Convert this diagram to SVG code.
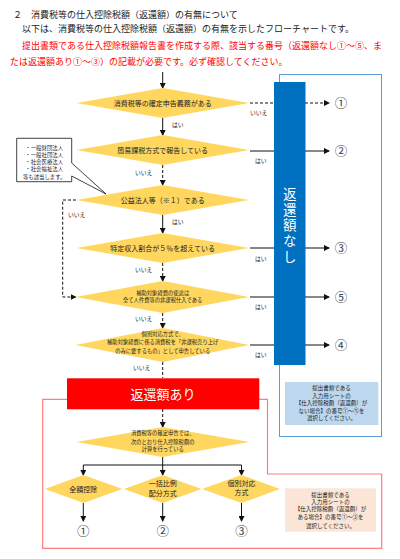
<svg xmlns="http://www.w3.org/2000/svg" width="400" height="559" viewBox="0 0 400 559">
<defs>
<style>
text{font-family:"Noto Sans CJK JP","Noto Sans",sans-serif;fill:#222}
.h{font-size:9px}
.red{fill:#ff0000}
.dia{fill:#ffd75e;stroke:none}
.dt{font-size:7px;text-anchor:middle}
.ds{font-size:5.3px;text-anchor:middle}
.lb{font-size:5.8px}
.ln{stroke:#111;stroke-width:1;fill:none}
.dash{stroke-dasharray:3,2}
.cn{font-size:12.5px;text-anchor:middle;fill:#444}
.bx{font-size:5.5px;text-anchor:middle}
.wt{fill:#fff;text-anchor:middle}
</style>
<marker id="ah" markerWidth="6" markerHeight="6" refX="5" refY="3" orient="auto" markerUnits="userSpaceOnUse">
<path d="M0,0 L6,3 L0,6 Z" fill="#111"/>
</marker>
</defs>
<rect width="400" height="559" fill="#fff"/>

<g id="header">
<text class="h" x="13" y="18">２　消費税等の仕入控除税額（返還額）の有無について</text>
<text class="h" x="22" y="32">以下は、消費税等の仕入控除税額（返還額）の有無を示したフローチャートです。</text>
<text class="h red" x="22" y="49">提出書類である仕入控除税額報告書を作成する際、該当する番号（返還額なし①～⑤、ま</text>
<text class="h red" x="10" y="65">たは返還額あり①～③）の記載が必要です。必ず確認してください。</text>
</g>

<g id="frame-none">
<rect x="279.5" y="74.5" width="102" height="362" fill="none" stroke="#5b9bd5" stroke-width="1"/>
</g>
<g id="frame-ari">
<path d="M42.7,399.3 H267.5 V474 H381.7 V548.3 H42.7 Z" fill="none" stroke="#ff7c80" stroke-width="1.2"/>
</g>

<g id="connectors">
<line class="ln" x1="162.7" y1="72" x2="162.7" y2="88" marker-end="url(#ah)"/>
<line class="ln" x1="162.7" y1="118" x2="162.7" y2="135" marker-end="url(#ah)"/>
<line class="ln dash" x1="162.7" y1="165" x2="162.7" y2="185" marker-end="url(#ah)"/>
<line class="ln" x1="162.7" y1="215" x2="162.7" y2="233" marker-end="url(#ah)"/>
<line class="ln dash" x1="162.7" y1="263" x2="162.7" y2="281" marker-end="url(#ah)"/>
<line class="ln dash" x1="162.7" y1="313" x2="162.7" y2="328" marker-end="url(#ah)"/>
<line class="ln dash" x1="162.7" y1="362" x2="162.7" y2="378"/>
<line class="ln dash" x1="162.7" y1="409" x2="162.7" y2="427" marker-end="url(#ah)"/>
<path class="ln dash" d="M76,200 H62.7 V297 H75.5" marker-end="url(#ah)"/>
<line class="ln dash" x1="250" y1="103" x2="329" y2="103" marker-end="url(#ah)"/>
<line class="ln" x1="250" y1="151" x2="329" y2="151" marker-end="url(#ah)"/>
<line class="ln" x1="250" y1="248" x2="329" y2="248" marker-end="url(#ah)"/>
<line class="ln" x1="250" y1="297" x2="329" y2="297" marker-end="url(#ah)"/>
<line class="ln" x1="250" y1="345" x2="329" y2="345" marker-end="url(#ah)"/>
<path class="ln" d="M162.7,457 V465 M83.3,465 H241.5"/>
<line class="ln" x1="83.3" y1="465" x2="83.3" y2="475" marker-end="url(#ah)"/>
<line class="ln" x1="162.7" y1="465" x2="162.7" y2="475" marker-end="url(#ah)"/>
<line class="ln" x1="241.5" y1="465" x2="241.5" y2="475" marker-end="url(#ah)"/>
<line class="ln" x1="83.3" y1="503" x2="83.3" y2="521" marker-end="url(#ah)"/>
<line class="ln" x1="162.7" y1="503" x2="162.7" y2="521" marker-end="url(#ah)"/>
<line class="ln" x1="241.5" y1="503" x2="241.5" y2="521" marker-end="url(#ah)"/>
<text class="lb" x="172" y="127">はい</text>
<text class="lb" x="135" y="175">いいえ</text>
<text class="lb" x="172" y="224">はい</text>
<text class="lb" x="135" y="272">いいえ</text>
<text class="lb" x="135" y="321">いいえ</text>
<text class="lb" x="133" y="370">いいえ</text>
<text class="lb" x="68" y="217">いいえ</text>
<text class="lb" x="250" y="115">いいえ</text>
<text class="lb" x="255" y="163">はい</text>
<text class="lb" x="255" y="261">はい</text>
<text class="lb" x="255" y="309">はい</text>
<text class="lb" x="255" y="357">はい</text>
</g>

<g id="bar-none">
<rect x="274" y="82" width="31.5" height="283" fill="#0070c0"/>
<text x="289.7" y="187" font-size="13.5" writing-mode="vertical-rl" letter-spacing="2.2" style="fill:#fff">返還額なし</text>
</g>

<g id="out1"><text class="cn" x="341" y="107.5">①</text></g>
<g id="out2"><text class="cn" x="341" y="155.5">②</text></g>
<g id="out3"><text class="cn" x="341" y="252.5">③</text></g>
<g id="out5"><text class="cn" x="341" y="301.5">⑤</text></g>
<g id="out4"><text class="cn" x="341" y="349.5">④</text></g>

<g id="d1">
<polygon class="dia" points="76.5,103 162.7,88 249,103 162.7,118"/>
<text class="dt" x="162.7" y="105.5">消費税等の確定申告義務がある</text>
</g>
<g id="d2">
<polygon class="dia" points="76.5,150 162.7,135 249,150 162.7,165"/>
<text class="dt" x="162.7" y="152.5">簡易課税方式で報告している</text>
</g>
<g id="d3">
<polygon class="dia" points="76.5,200 162.7,185 249,200 162.7,215"/>
<text class="dt" x="162.7" y="202.5">公益法人等（※１）である</text>
</g>
<g id="d4">
<polygon class="dia" points="76.5,248 162.7,233 249,248 162.7,263"/>
<text class="dt" x="162.7" y="250.5">特定収入割合が５％を超えている</text>
</g>
<g id="d5">
<polygon class="dia" points="75.5,297 162.7,281 249,297 162.7,313"/>
<text class="ds"><tspan x="162.7" y="295">補助対象経費の使途は</tspan><tspan x="162.7" y="302">全て人件費等の非課税仕入である</tspan></text>
</g>
<g id="d6">
<polygon class="dia" points="75.5,345 162.7,328 249,345 162.7,362"/>
<text class="ds"><tspan x="162.7" y="335.5">個別対応方式で、</tspan><tspan x="162.7" y="344">補助対象経費に係る消費税を「非課税売り上げ</tspan><tspan x="162.7" y="352.5">のみに要するもの」として申告している</tspan></text>
</g>

<g id="callout">
<path d="M16.7,138.3 H71.7 V163 L106,194 L71.7,176 V181.7 H16.7 Z" fill="#fff" stroke="#111" stroke-width="0.8"/>
<text font-size="5.4" text-anchor="middle"><tspan x="44.2" y="149.5">・一般財団法人</tspan><tspan x="44.2" y="156.8">・一般社団法人</tspan><tspan x="44.2" y="164.1">・社会医療法人</tspan><tspan x="44.2" y="171.4">・社会福祉法人</tspan><tspan x="44.2" y="178.7">等も該当します。</tspan></text>
</g>

<g id="box-ari">
<rect x="67" y="378.3" width="192.3" height="31" fill="#ff0000"/>
<text class="wt" x="163" y="398.5" font-size="13">返還額あり</text>
</g>

<g id="note-none">
<rect x="285" y="382" width="93.3" height="43" fill="#bdd7ee"/>
<text class="bx"><tspan x="331.5" y="390">提出書類である</tspan><tspan x="331.5" y="397.5">入力用シートの</tspan><tspan x="331.5" y="405">【仕入控除税額（返還額）が</tspan><tspan x="331.5" y="412.5">ない場合】の番号①～⑤を</tspan><tspan x="331.5" y="420.3">選択してください。</tspan></text>
</g>

<g id="d7">
<polygon class="dia" points="76.5,442 162.7,427 249.3,442 162.7,457"/>
<text class="ds" font-size="5.6"><tspan x="162.7" y="435.3">消費税等の確定申告では、</tspan><tspan x="162.7" y="443.7">次のとおり仕入控除税額の</tspan><tspan x="162.7" y="451">計算を行っている</tspan></text>
</g>

<g id="d8">
<polygon class="dia" points="45,489 83.3,475 122.5,489 83.3,503"/>
<text class="dt" x="83.3" y="491.5">全額控除</text>
</g>
<g id="d9">
<polygon class="dia" points="124,489 162.7,475 201.5,489 162.7,503"/>
<text class="dt"><tspan x="162.7" y="485.5">一括比例</tspan><tspan x="162.7" y="495.5">配分方式</tspan></text>
</g>
<g id="d10">
<polygon class="dia" points="202,489 241.5,475 280,489 241.5,503"/>
<text class="dt"><tspan x="241.5" y="485.5">個別対応</tspan><tspan x="241.5" y="494.5">方式</tspan></text>
</g>

<g id="res1"><text class="cn" x="83.3" y="535.5">①</text></g>
<g id="res2"><text class="cn" x="162.7" y="535.5">②</text></g>
<g id="res3"><text class="cn" x="241.5" y="535.5">③</text></g>

<g id="note-ari">
<rect x="285" y="488.3" width="91" height="43.4" fill="#fbe5d6"/>
<text class="bx"><tspan x="330.5" y="497">提出書類である</tspan><tspan x="330.5" y="503.7">入力用シートの</tspan><tspan x="330.5" y="511.3">【仕入控除税額（返還額）が</tspan><tspan x="330.5" y="519.3">ある場合】の番号①～③を</tspan><tspan x="330.5" y="527.7">選択してください。</tspan></text>
</g>
</svg>
